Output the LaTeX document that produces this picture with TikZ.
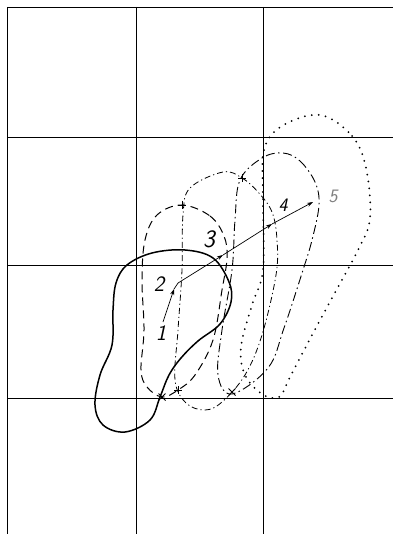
\documentclass[tikz,border=0pt]{standalone}
\usepackage{tikz}
\usetikzlibrary{arrows.meta,positioning}
\begin{document}
\begin{tikzpicture}[x=1pt,y=-1pt,
  numlabel/.style={font=\sffamily\itshape\fontsize{22}{22}\selectfont,inner sep=0pt},
  gridline/.style={line width=0.8pt},
  outlineA/.style={line width=1.5pt},
  outlineB/.style={line width=1pt,dash pattern=on 8pt off 5pt},
  outlineC/.style={line width=0.8pt,dash pattern=on 6pt off 3pt on 1.2pt off 3pt},
  outlineD/.style={line width=0.9pt,dash pattern=on 9pt off 3.5pt on 1.5pt off 3.5pt},
  outlineE/.style={line width=2pt,dash pattern=on 0pt off 7pt,line cap=round},
  track/.style={line width=0.7pt},
  tip/.style={-{Stealth[length=6pt,width=4pt]}}]
\useasboundingbox (0,0) rectangle (393,534);
% grid
\foreach \x in {7,136,263} \draw[gridline] (\x,7) -- (\x,534);
\foreach \y in {7,137,265,398} \draw[gridline] (7,\y) -- (393,\y);
% outlines
\draw[outlineA] plot[smooth cycle,tension=0.6] coordinates {(127,265) (152,253) (185,250) (213,258) (229,282) (231,302) (220,324) (198,341) (181,358) (169,375) (160,397) (150,420) (125,432) (103,425) (95,405) (100,375) (112,345) (113,310) (116,283)};
\draw[outlineB] plot[smooth cycle,tension=0.6] coordinates {(182,205) (210,216) (224,236) (227,258) (222,290) (213,340) (195,375) (178,390) (162,397) (147,387) (141,370) (144,330) (142,280) (145,240) (157,215)};
\draw[outlineC] plot[smooth cycle,tension=0.6] coordinates {(223,172) (242,178) (258,192) (272,212) (277,240) (276,275) (262,335) (245,375) (222,402) (205,410) (186,403) (175,380) (178,330) (182,270) (183,215) (190,188)};
\draw[outlineD] plot[smooth cycle,tension=0.6] coordinates {(283,153) (300,161) (315,182) (319,205) (312,240) (303,270) (284,328) (268,368) (232,394) (218,375) (222,330) (232,270) (235,220) (240,180) (262,158)};
\draw[outlineE] plot[smooth cycle,tension=0.6] coordinates {(320,115) (352,136) (366,168) (370,218) (358,250) (332,298) (311,337) (290,377) (279,397) (262,394) (245,375) (241,347) (252,305) (263,270) (263,200) (264,150) (282,126)};
% markers
\foreach \x/\y in {162/397,232/392} \draw[line width=0.9pt] (\x-3.5,\y-3.5) -- (\x+3.5,\y+3.5) (\x-3.5,\y+3.5) -- (\x+3.5,\y-3.5);
\foreach \x/\y in {182/205,242/178,178/390} \draw[line width=0.9pt] (\x-4,\y) -- (\x+4,\y) (\x,\y-4) -- (\x,\y+4);
% track of the centre
\coordinate (c1) at (163,322);
\coordinate (c2) at (174,289);
\coordinate (k2) at (178,283);
\coordinate (c3) at (223,255);
\coordinate (c4) at (272,224);
\coordinate (c5) at (313,202);
\draw[track,tip] (c1) -- (c2);
\draw[track] (c2) -- (k2);
\draw[track,tip] (k2) -- (c3);
\draw[track,tip] (c3) -- (c4);
\draw[track,tip] (c4) -- (c5);
% numbers
\node[numlabel] (n1) at (161,333) {1};
\node[numlabel] (n2) at (159,284) {2};
\node[numlabel,font=\sffamily\itshape\fontsize{25}{25}\selectfont] (n3) at (209,239) {3};
\node[numlabel,font=\sffamily\itshape\fontsize{19}{19}\selectfont] (n4) at (283,205) {4};
\node[numlabel,font=\sffamily\itshape\fontsize{19}{19}\selectfont,gray] (n5) at (333,196) {5};
\end{tikzpicture}
\end{document}
